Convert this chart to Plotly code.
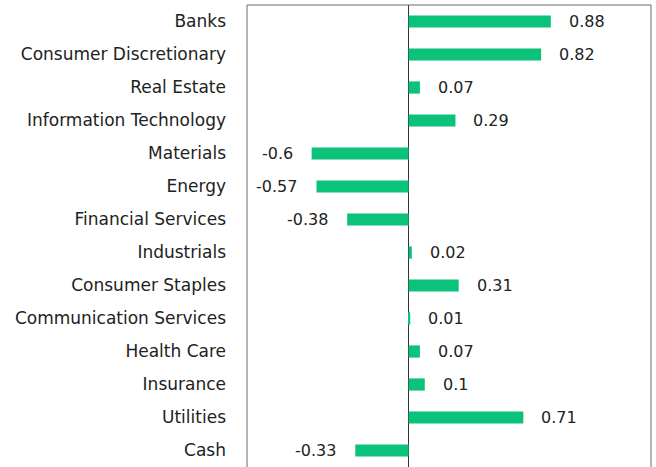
import plotly.graph_objects as go

categories = ["Banks", "Consumer Discretionary", "Real Estate", "Information Technology",
              "Materials", "Energy", "Financial Services", "Industrials", "Consumer Staples",
              "Communication Services", "Health Care", "Insurance", "Utilities", "Cash"]
values = [0.88, 0.82, 0.07, 0.29, -0.6, -0.57, -0.38, 0.02, 0.31, 0.01, 0.07, 0.1, 0.71, -0.33]
value_labels = ["0.88", "0.82", "0.07", "0.29", "-0.6", "-0.57", "-0.38", "0.02", "0.31",
                "0.01", "0.07", "0.1", "0.71", "-0.33"]

FONT = "DejaVu Sans"
fig = go.Figure(go.Bar(
    x=values, y=categories, orientation="h",
    marker=dict(color="#0BC27A", line=dict(width=0)),
    width=0.37, hoverinfo="skip",
))

for c, v, t in zip(categories, values, value_labels):
    fig.add_annotation(x=v, y=c, text=t, showarrow=False,
                       xanchor="left" if v >= 0 else "right",
                       xshift=16 if v >= 0 else -17,
                       font=dict(family=FONT, size=16, color="#222222"))

fig.add_shape(type="rect", xref="paper", yref="paper", x0=0, x1=1, y0=-0.03, y1=1,
              line=dict(color="#6b6b6b", width=1), fillcolor="rgba(0,0,0,0)", layer="above")

fig.update_layout(
    width=656, height=467,
    margin=dict(l=247, r=5, t=5, b=0, autoexpand=False),
    plot_bgcolor="white", paper_bgcolor="white",
    showlegend=False,
    font=dict(family=FONT, size=16, color="#222222"),
    xaxis=dict(range=[-1.0, 1.5], showticklabels=False, showgrid=False,
               zeroline=True, zerolinecolor="#333333", zerolinewidth=1,
               showline=False),
    yaxis=dict(autorange=False, range=[13.5, -0.5], showgrid=False,
               showline=False, zeroline=False,
               ticks="", ticklabelstandoff=20, automargin=False,
               tickfont=dict(family=FONT, size=17, color="#222222")),
)

fig.write_html("out.html", config={"displayModeBar": False},
               post_script="document.body.style.margin='0';document.body.style.overflow='hidden';")
